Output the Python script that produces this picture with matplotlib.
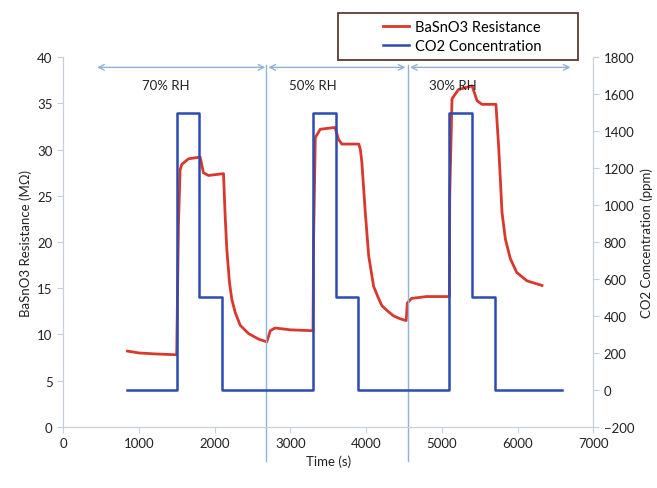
import matplotlib.pyplot as plt
from matplotlib.patches import Rectangle

plt.rcParams['font.family'] = ['Lato', 'DejaVu Sans']

# BaSnO3 resistance (MOhm) vs time (s)
t_res = [850, 1000, 1200, 1500, 1524, 1545, 1567, 1655, 1810, 1853, 1920, 2118,
         2140, 2162, 2197, 2228, 2272, 2338, 2448, 2580, 2690, 2735, 2800, 3000, 3300,
         3307, 3330, 3395, 3590, 3637, 3680, 3905,
         3925, 3945, 3990, 4035, 4100, 4160, 4210, 4290, 4365, 4450, 4530,
         4545, 4600, 4800, 5100,
         5105, 5135, 5220, 5400, 5465, 5530, 5715,
         5750, 5773, 5795, 5840, 5905, 5990, 6125, 6323]
resistance = [8.2, 8.0, 7.9, 7.8, 22.0, 27.8, 28.4, 29.0, 29.2, 27.5, 27.2, 27.4,
              22.8, 19.2, 15.6, 13.8, 12.4, 11.0, 10.1, 9.5, 9.2, 10.4, 10.7, 10.5, 10.4,
              20.0, 31.3, 32.2, 32.4, 31.1, 30.6, 30.6,
              30.0, 28.6, 23.2, 18.5, 15.2, 14.0, 13.1, 12.5, 12.0, 11.7, 11.5,
              13.4, 13.9, 14.1, 14.1,
              25.0, 35.5, 36.5, 36.9, 35.3, 34.9, 34.9,
              30.4, 26.8, 23.2, 20.3, 18.2, 16.7, 15.8, 15.3]

# CO2 concentration steps (ppm)
t_co2 = [850, 1500, 1500, 1800, 1800, 2100, 2100, 3300, 3300, 3600, 3600, 3900,
         3900, 5100, 5100, 5400, 5400, 5700, 5700, 6590]
co2 = [0, 0, 1500, 1500, 500, 500, 0, 0, 1500, 1500, 500, 500,
       0, 0, 1500, 1500, 500, 500, 0, 0]

rh_labels = ['70% RH', '50% RH', '30% RH']
rh_label_x = [1350, 3300, 5150]
rh_bounds = [(450, 2670), (2710, 4520), (4580, 6700)]
rh_switch = [2680, 4560]

red = '#d9382c'
blue = '#2b4cb3'
axis_col = '#c5d0dc'
arrow_col = '#8fb2d8'
txt = '#222222'

fig = plt.figure(figsize=(6.57, 4.89), dpi=100)
ax = fig.add_axes([0.096, 0.125, 0.807, 0.756])
ax2 = ax.twinx()

l1, = ax.plot(t_res, resistance, color=red, lw=2.0)
l2, = ax2.plot(t_co2, co2, color=blue, lw=1.8)

ax.set_xlim(0, 7000)
ax.set_ylim(0, 40)
ax2.set_ylim(-200, 1800)
ax.set_xticks(range(0, 7001, 1000))
ax.set_yticks(range(0, 41, 5))
ax2.set_yticks(range(-200, 1801, 200))

for a in (ax, ax2):
    for s in a.spines.values():
        s.set_color(axis_col)
    a.spines['top'].set_visible(False)
    a.tick_params(colors=axis_col, labelcolor=txt, labelsize=9.5, length=4)

ax.set_xlabel('Time (s)', fontsize=9.5, color=txt)
ax.set_ylabel('BaSnO3 Resistance (MΩ)', fontsize=9.5, color=txt)
ax2.set_ylabel('CO2 Concentration (ppm)', fontsize=9.5, color=txt)

# humidity regions
for x in rh_switch:
    ax.axvline(x, ymin=-0.092, ymax=0.978, color=arrow_col, lw=1, clip_on=False)
for (x0, x1), lab, lx in zip(rh_bounds, rh_labels, rh_label_x):
    ax.annotate('', xy=(x0, 38.9), xytext=(x1, 38.9),
                arrowprops=dict(arrowstyle='<->', color=arrow_col, lw=1,
                                shrinkA=0, shrinkB=0),
                annotation_clip=False)
    ax.text(lx, 37.0, lab, fontsize=9.5, ha='center', va='center', color=txt)

# legend box drawn by hand, entries centred in it
fig.patches.append(Rectangle((338 / 657, 1 - 61 / 489), 240 / 657, 47 / 489,
                             transform=fig.transFigure, fill=False,
                             edgecolor='#5a3b30', lw=1.3))
fig.legend([l1, l2], ['BaSnO3 Resistance', 'CO2 Concentration'],
           loc='center', bbox_to_anchor=(462 / 657, 1 - 37.5 / 489),
           fontsize=10.5, frameon=False, handlelength=1.8, handletextpad=0.4,
           labelspacing=0.35, borderpad=0)

fig.savefig('out.png', dpi=100)
